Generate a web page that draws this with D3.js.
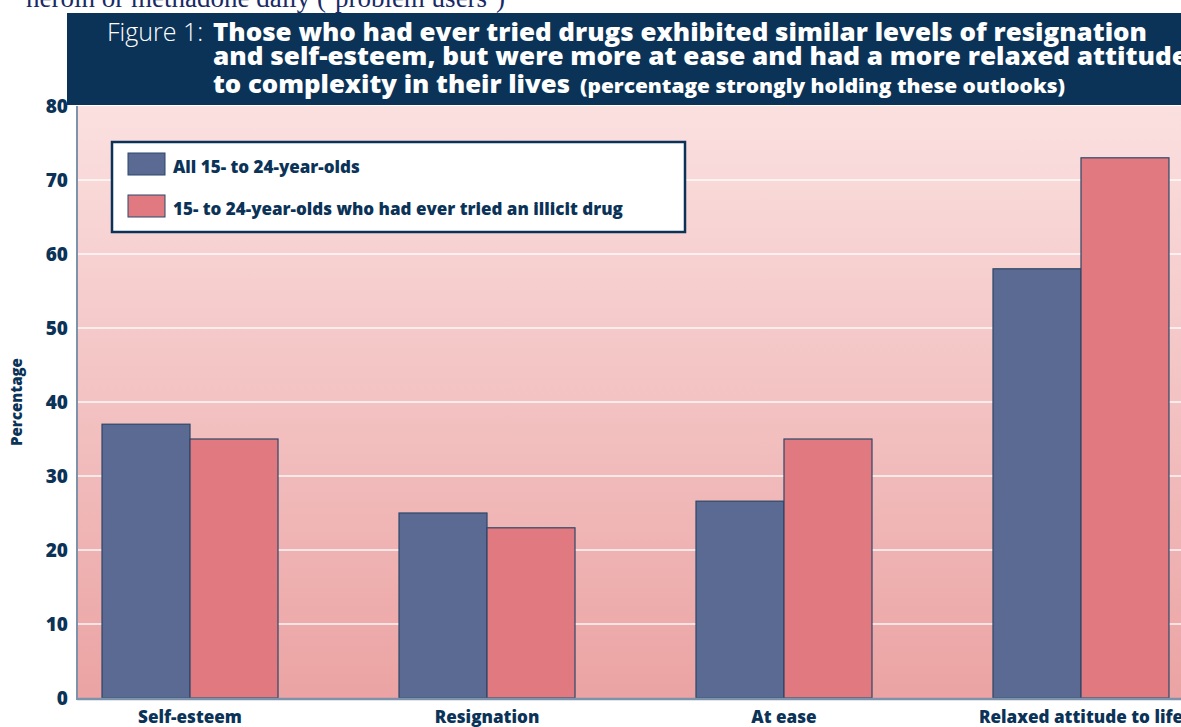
<!DOCTYPE html>
<html lang="en">
<head>
<meta charset="utf-8">
<title>Figure 1</title>
<script src="https://cdn.jsdelivr.net/npm/d3@7"></script>
<style>
  body { margin: 0; background: #fff; }
  svg { display: block; }
</style>
</head>
<body>
<script>
var categories = ["Self-esteem", "Resignation", "At ease", "Relaxed attitude to life"];
var seriesNames = ["All 15- to 24-year-olds", "15- to 24-year-olds who had ever tried an illicit drug"];
var allYoung = [37, 25, 26.6, 58];
var triedDrug = [35, 23, 35, 73];
var yTicks = [0, 10, 20, 30, 40, 50, 60, 70, 80];

var w = 1181, h = 727;
var navy = "#0b3358";
var colors = ["#5a6a93", "#e07a80"];

var svg = d3.select("body").append("svg").attr("width", w).attr("height", h);

var plotLeft = 77, plotTop = 106, plotBottom = 698;

var x = d3.scaleBand()
  .domain(categories)
  .range([plotLeft, 1194])
  .paddingInner(0.4074)
  .paddingOuter(0.0842);
var xs = d3.scaleBand().domain([0, 1]).range([0, x.bandwidth()]);
var y = d3.scaleLinear().domain([0, 80]).range([plotBottom, plotTop]);

// background gradient
var defs = svg.append("defs");
var grad = defs.append("linearGradient").attr("id", "bg")
  .attr("x1", 0).attr("y1", 0).attr("x2", 0).attr("y2", 1);
grad.append("stop").attr("offset", "0%").attr("stop-color", "#fbe0e0");
grad.append("stop").attr("offset", "50%").attr("stop-color", "#f3c2c2");
grad.append("stop").attr("offset", "100%").attr("stop-color", "#eba3a3");

svg.append("rect").attr("x", plotLeft).attr("y", plotTop)
  .attr("width", w - plotLeft).attr("height", plotBottom - plotTop)
  .attr("fill", "url(#bg)");

// gridlines
svg.append("g").selectAll("line")
  .data(yTicks.filter(function(d) { return d > 0 && d < 80; }))
  .enter().append("line")
  .attr("x1", plotLeft).attr("x2", w)
  .attr("y1", function(d) { return y(d); })
  .attr("y2", function(d) { return y(d); })
  .attr("stroke", "#fff").attr("stroke-width", 1.5).attr("opacity", 0.9);

// bars
var rows = categories.map(function(c, i) { return { cat: c, vals: [allYoung[i], triedDrug[i]] }; });
var groups = svg.append("g").selectAll("g").data(rows).enter().append("g")
  .attr("transform", function(d) { return "translate(" + x(d.cat) + ",0)"; });
groups.selectAll("rect")
  .data(function(d) { return d.vals; })
  .enter().append("rect")
  .attr("x", function(d, i) { return xs(i); })
  .attr("y", function(d) { return y(d); })
  .attr("width", xs.bandwidth())
  .attr("height", function(d) { return plotBottom - y(d); })
  .attr("fill", function(d, i) { return colors[i]; })
  .attr("stroke", "#2c4668").attr("stroke-width", 1.2);

// axis lines
svg.append("line").attr("x1", plotLeft).attr("x2", plotLeft).attr("y1", plotTop).attr("y2", plotBottom + 2)
  .attr("stroke", "#7d93ab").attr("stroke-width", 2);
svg.append("line").attr("x1", plotLeft).attr("x2", w).attr("y1", plotBottom + 1).attr("y2", plotBottom + 1)
  .attr("stroke", "#7d93ab").attr("stroke-width", 2.5);

// y axis
var yAxis = d3.axisLeft(y).tickValues(yTicks).tickSize(0).tickPadding(9);
var ya = svg.append("g").attr("transform", "translate(" + plotLeft + ",0)").call(yAxis);
ya.select(".domain").remove();
ya.selectAll("text")
  .attr("font-family", "Open Sans, sans-serif").attr("font-weight", 800)
  .attr("font-size", "19px").attr("fill", navy);

svg.append("text")
  .attr("transform", "translate(22,402) rotate(-90)")
  .attr("text-anchor", "middle")
  .attr("font-family", "Open Sans, sans-serif").attr("font-weight", 800)
  .attr("font-size", "15px").attr("fill", navy)
  .text("Percentage");

// x axis labels
var xAxis = d3.axisBottom(x).tickSize(0).tickPadding(12);
var xa = svg.append("g").attr("transform", "translate(0," + plotBottom + ")").call(xAxis);
xa.select(".domain").remove();
xa.selectAll("text")
  .attr("font-family", "Open Sans, sans-serif").attr("font-weight", 800)
  .attr("font-size", "18px").attr("fill", navy)
  .attr("transform", "scale(0.95,1)");

// legend
var lg = svg.append("g");
lg.append("rect").attr("x", 112).attr("y", 142).attr("width", 573).attr("height", 90)
  .attr("fill", "#fff").attr("stroke", navy).attr("stroke-width", 2.5);
seriesNames.forEach(function(s, i) {
  lg.append("rect").attr("x", 128).attr("y", 153 + i * 42).attr("width", 37).attr("height", 22)
    .attr("fill", colors[i]).attr("stroke", "#2c4668").attr("stroke-width", 1);
  lg.append("text").attr("x", 173).attr("y", 173 + i * 42)
    .attr("font-family", "Open Sans, sans-serif").attr("font-weight", 800)
    .attr("font-size", "17px").attr("fill", navy).text(s);
});

// title box
svg.append("rect").attr("x", 67).attr("y", 13).attr("width", w - 67).attr("height", 92)
  .attr("fill", navy);
var tf = "Open Sans, sans-serif";
svg.append("text").attr("x", 107).attr("y", 41)
  .attr("font-family", tf).attr("font-weight", 300).attr("font-size", "25px").attr("fill", "#fff")
  .text("Figure 1:");
var titleLines = [
  "Those who had ever tried drugs exhibited similar levels of resignation",
  "and self-esteem, but were more at ease and had a more relaxed attitude"
];
titleLines.forEach(function(t, i) {
  svg.append("text").attr("x", 213).attr("y", 41 + i * 24)
    .attr("font-family", tf).attr("font-weight", 800).attr("font-size", "25px")
    .attr("fill", "#fff").attr("textLength", i === 0 ? 934 : 975).attr("lengthAdjust", "spacingAndGlyphs")
    .text(t);
});
var t3 = svg.append("g");
t3.append("text").attr("x", 213).attr("y", 93)
  .attr("font-family", tf).attr("font-weight", 800).attr("fill", "#fff")
  .attr("font-size", "25px").attr("textLength", 357).attr("lengthAdjust", "spacingAndGlyphs")
  .text("to complexity in their lives");
t3.append("text").attr("x", 580).attr("y", 93)
  .attr("font-family", tf).attr("font-weight", 800).attr("fill", "#fff")
  .attr("font-size", "20px").attr("textLength", 485).attr("lengthAdjust", "spacingAndGlyphs")
  .text("(percentage strongly holding these outlooks)");

// cut-off text from the page above
svg.append("text").attr("x", 26).attr("y", 7)
  .attr("font-family", "Liberation Serif, serif").attr("font-size", "27px").attr("fill", "#1a2a66")
  .text("heroin or methadone daily (\u2018problem users\u2019)");
</script>
</body>
</html>
